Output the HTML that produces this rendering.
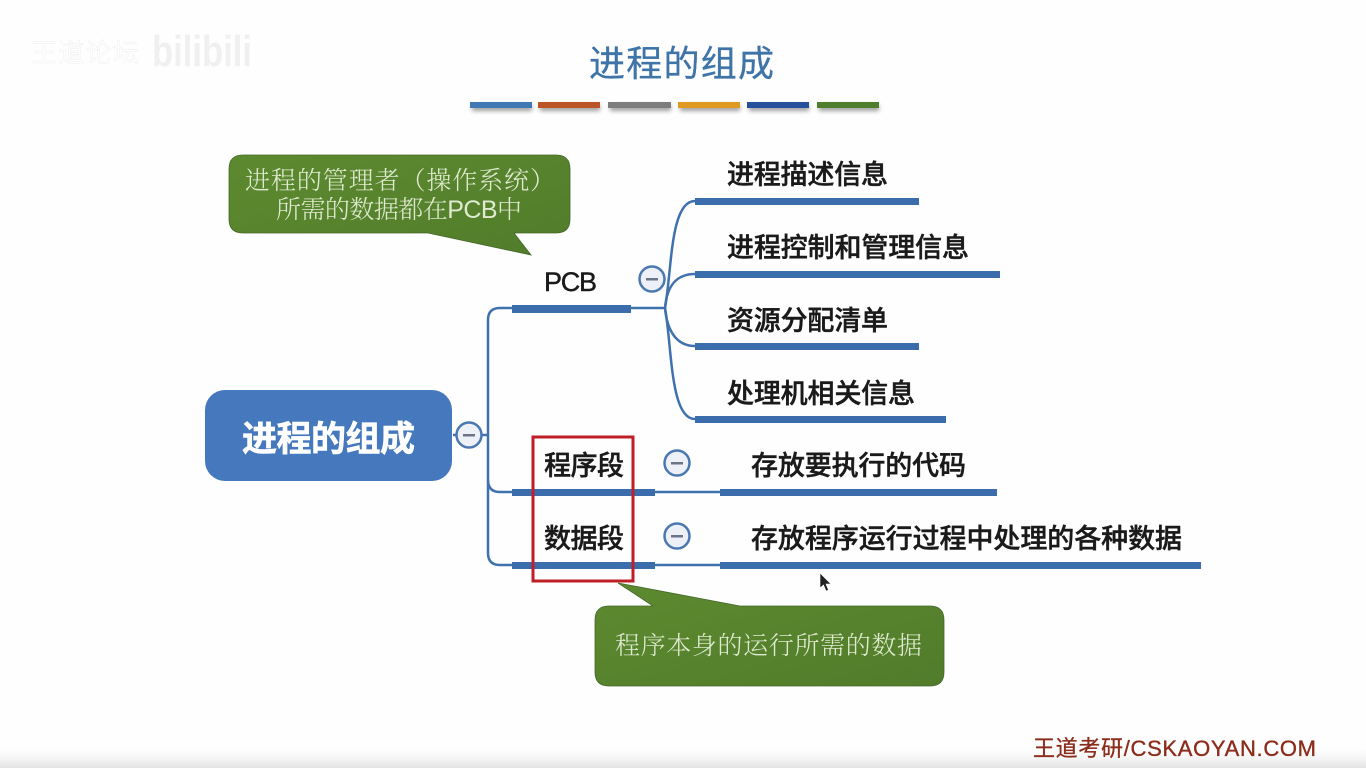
<!DOCTYPE html>
<html lang="zh"><head><meta charset="utf-8"><title>进程的组成</title>
<style>html,body{margin:0;padding:0;background:#fff;width:1366px;height:768px;overflow:hidden}svg{display:block}
text{font-family:"Liberation Sans","Noto Sans CJK SC",sans-serif}
.n{font-size:27px;fill:#1a1a1a;font-weight:500;stroke:#1a1a1a;stroke-width:.45}
.c{font-family:"Liberation Sans","Noto Serif CJK SC",serif;font-size:25px;font-weight:300;fill:#dfeacf}
</style></head><body>
<svg width="1366" height="768" viewBox="0 0 1366 768" xmlns="http://www.w3.org/2000/svg">
<defs>
<linearGradient id="b" x1="0" y1="0" x2="0" y2="1"><stop offset="0" stop-color="#fff" stop-opacity="0"/><stop offset="1" stop-color="#e2e2e2"/></linearGradient>
<linearGradient id="g" x1="0" y1="0" x2="1" y2="1"><stop offset="0" stop-color="#5d8a30"/><stop offset="1" stop-color="#517c2b"/></linearGradient>
<filter id="s" x="-10%" y="-60%" width="120%" height="300%"><feGaussianBlur stdDeviation="2"/></filter>
</defs>
<rect width="1366" height="768" fill="#fefefe"/>
<rect y="745" width="1366" height="23" fill="url(#b)"/>

<text x="31" y="62" font-size="26" fill="#fff" stroke="#ececec" stroke-width=".4" textLength="108">王道论坛</text>
<text x="152" y="66" font-size="44" font-weight="700" fill="#f0f0f0" textLength="100" lengthAdjust="spacingAndGlyphs">bilibili</text>

<text x="589" y="76" font-size="36" fill="#3f74a8" stroke="#3f74a8" stroke-width=".3" textLength="185">进程的组成</text>
<g filter="url(#s)" fill="#777" opacity=".7"><rect x="472" y="105" width="60" height="6"/><rect x="540" y="105" width="60" height="6"/><rect x="610" y="105" width="61" height="6"/><rect x="680" y="105" width="60" height="6"/><rect x="749" y="105" width="60" height="6"/><rect x="819" y="105" width="60" height="6"/></g>
<rect x="470" y="102" width="62" height="6" fill="#3f78b2"/><rect x="538" y="102" width="62" height="6" fill="#bb5528"/><rect x="608" y="102" width="63" height="6" fill="#7d7d7d"/><rect x="678" y="102" width="62" height="6" fill="#e09a22"/><rect x="747" y="102" width="62" height="6" fill="#26509b"/><rect x="817" y="102" width="62" height="6" fill="#4f7f2b"/>

<g fill="none" stroke="#3f72ad" stroke-width="2.5">
<path d="M453 435H488"/>
<path d="M512 308H500Q488 308 488 320V553Q488 565 500 565H512"/>
<path d="M488 480Q488 492 500 492H512"/>
<path d="M631 308H665"/><path d="M655 492H720"/><path d="M655 565H720"/>
<path d="M665 308C672 270 670 201 695 201"/>
<path d="M665 308C667 286 676 274 695 274"/>
<path d="M665 308C667 330 676 346 695 346"/>
<path d="M665 308C672 346 670 419 695 419"/>
</g>
<g fill="#3b6cab">
<rect x="512" y="305" width="119" height="8"/><rect x="512" y="489" width="143" height="7"/><rect x="512" y="562" width="143" height="7"/>
<rect x="695" y="198" width="224" height="7"/><rect x="695" y="271" width="305" height="7"/><rect x="695" y="343" width="224" height="7"/><rect x="695" y="416" width="251" height="7"/>
<rect x="720" y="489" width="277" height="7"/><rect x="720" y="562" width="481" height="7"/>
</g>

<rect x="205" y="390" width="247" height="91" rx="20" fill="#4678bd"/>
<text x="242" y="451" font-size="35" font-weight="700" fill="#fff" stroke="#fff" stroke-width=".6" textLength="173">进程的组成</text>

<g fill="#eef0f7" stroke="#4a78b0" stroke-width="2.5">
<circle cx="469" cy="435" r="12.500"/><circle cx="652" cy="279" r="12.500"/><circle cx="677" cy="463" r="12.500"/><circle cx="677" cy="536" r="12.500"/>
</g>
<g fill="#6d7488"><rect x="463" y="434" width="12" height="2.500"/><rect x="646" y="278" width="12" height="2.500"/><rect x="671" y="462" width="12" height="2.500"/><rect x="671" y="535" width="12" height="2.500"/></g>

<text class="n" x="544" y="291" textLength="53">PCB</text>
<text class="n" x="544" y="475" textLength="80">程序段</text>
<text class="n" x="544" y="548" textLength="80">数据段</text>
<text class="n" x="727" y="184" textLength="161">进程描述信息</text>
<text class="n" x="727" y="257" textLength="242">进程控制和管理信息</text>
<text class="n" x="727" y="330" textLength="161">资源分配清单</text>
<text class="n" x="727" y="403" textLength="188">处理机相关信息</text>
<text class="n" x="751" y="475" textLength="215">存放要执行的代码</text>
<text class="n" x="751" y="548" textLength="431">存放程序运行过程中处理的各种数据</text>

<rect x="533" y="437" width="100" height="144" fill="none" stroke="#c01f28" stroke-width="3"/>

<path d="M243 155H556Q570 155 570 169V219Q570 233 556 233H514L531 255L428 233H243Q229 233 229 219V169Q229 155 243 155Z" fill="url(#g)" stroke="#44682a" stroke-width=".8"/>
<text class="c" x="245" y="189" textLength="310">进程的管理者（操作系统）</text>
<text class="c" x="276" y="218" textLength="246">所需的数据都在PCB中</text>

<path d="M609 606H653L618 583L740 606H930Q944 606 944 620V672Q944 686 930 686H609Q595 686 595 672V620Q595 606 609 606Z" fill="url(#g)" stroke="#44682a" stroke-width=".8"/>
<text class="c" x="615" y="654" textLength="307">程序本身的运行所需的数据</text>

<path d="M820 573V588L823.500 585L826 591L828.500 590L826 584H831Z" fill="#222" stroke="#fff" stroke-width=".6"/>

<text x="1033" y="756" font-size="22" fill="#8c2c1b" stroke="#8c2c1b" stroke-width=".35" textLength="283">王道考研/CSKAOYAN.COM</text>
</svg>
</body></html>
